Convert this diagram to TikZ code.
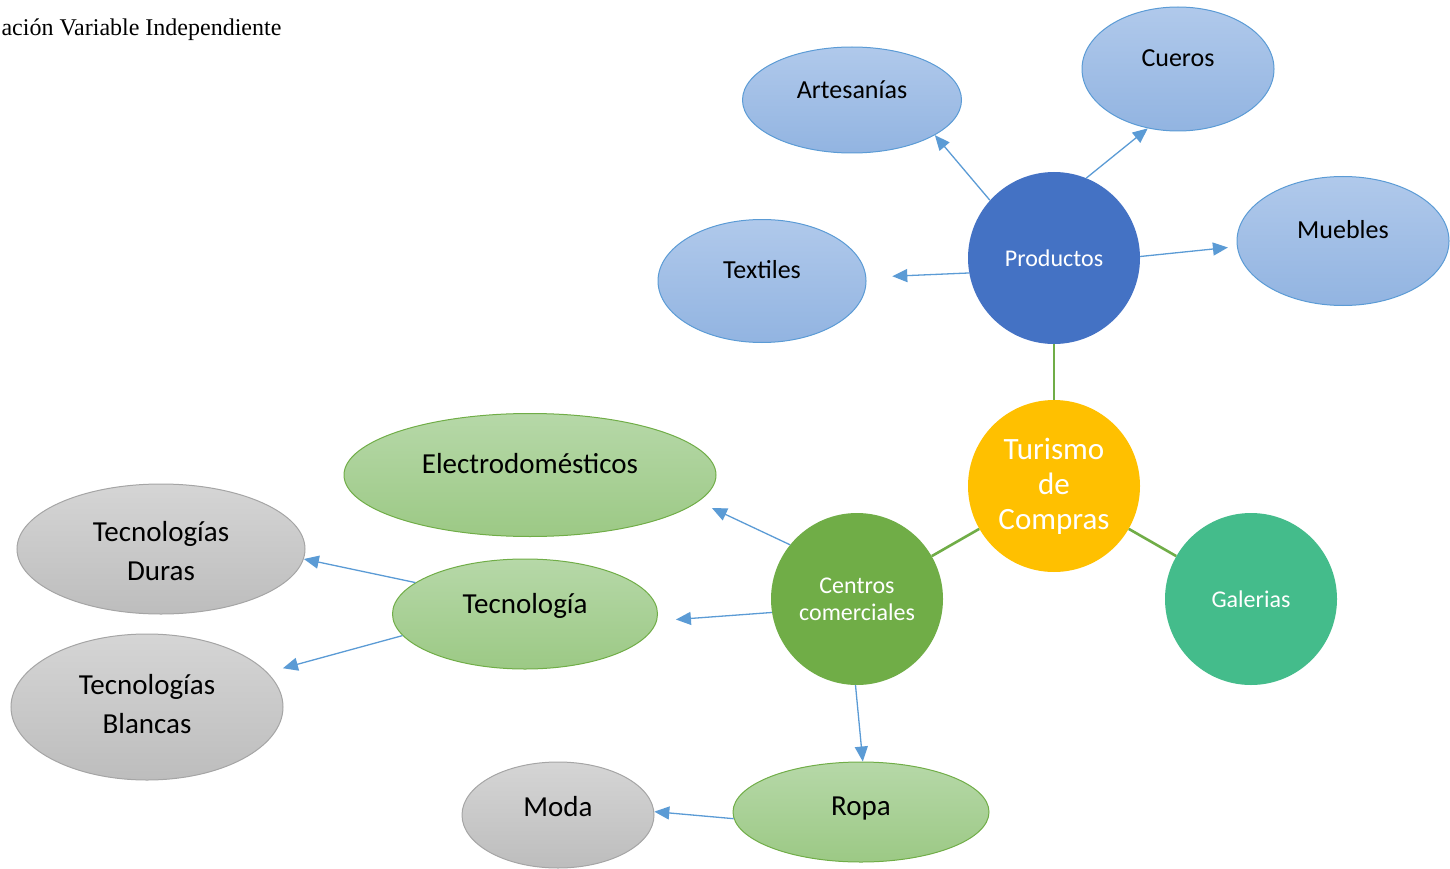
\documentclass[tikz,border=0pt]{standalone}
\usepackage{fontspec}
\setmainfont{Carlito}
\newfontfamily\timesfont{Liberation Serif}
\usetikzlibrary{arrows.meta,shapes.geometric}

\definecolor{turgold}{HTML}{FFC000}
\definecolor{prodblue}{HTML}{4472C4}
\definecolor{cengreen}{HTML}{70AD47}
\definecolor{galteal}{HTML}{44BC8B}
\definecolor{arrblue}{HTML}{5B9BD5}
\definecolor{blueline}{HTML}{5B9BD5}
\definecolor{bluetop}{HTML}{B0C9EB}
\definecolor{bluebot}{HTML}{92B4E1}
\definecolor{greentop}{HTML}{B6D8A8}
\definecolor{greenbot}{HTML}{9CC985}
\definecolor{greytop}{HTML}{D5D5D5}
\definecolor{greybot}{HTML}{BDBDBD}
\definecolor{greyline}{HTML}{A5A5A5}

\begin{document}
\begin{tikzpicture}[x=1pt,y=-1pt,
    hub/.style={circle,minimum size=172pt,inner sep=0pt,text=white,align=center},
    oval/.style={ellipse,inner sep=0pt,line width=1pt},
    blueoval/.style={oval,draw=blueline,top color=bluetop,bottom color=bluebot},
    greenoval/.style={oval,draw=cengreen,top color=greentop,bottom color=greenbot},
    greyoval/.style={oval,draw=greyline,top color=greytop,bottom color=greybot},
    small/.style={font=\fontsize{26}{30}\selectfont},
    big/.style={font=\fontsize{29}{39}\selectfont,align=center},
    link/.style={draw=cengreen,line width=2.6pt},
    arr/.style={draw=arrblue,line width=1.3pt,-{Triangle[length=15pt,width=13pt]}}]
  \useasboundingbox (0,0) rectangle (1450,869);
  \node[anchor=west,font=\timesfont\fontsize{24}{28}\selectfont] (title) at (-2,30) {ación Variable Independiente};
  % the four circles
  \node[hub,fill=turgold,font=\fontsize{31}{35}\selectfont] (tur) at (1054,486) {Turismo\\de\\Compras};
  \node[hub,fill=prodblue,font=\fontsize{24}{28}\selectfont] (prod) at (1054,258) {Productos};
  \node[hub,fill=cengreen,font=\fontsize{24}{27}\selectfont] (cen) at (857,599) {Centros\\comerciales};
  \node[hub,fill=galteal,font=\fontsize{24}{28}\selectfont] (gal) at (1251,599) {Galerias};
  % products
  \node[blueoval,minimum width=219pt,minimum height=106pt,label={[small,yshift=10pt]center:Artesanías}] (art) at (852,100) {};
  \node[blueoval,minimum width=192pt,minimum height=124pt,label={[small,yshift=11pt]center:Cueros}] (cue) at (1178,69) {};
  \node[blueoval,minimum width=212pt,minimum height=129pt,label={[small,yshift=11pt]center:Muebles}] (mue) at (1343,241) {};
  \node[blueoval,minimum width=208pt,minimum height=123pt,label={[small,yshift=11pt]center:Textiles}] (tex) at (762,281) {};
  % centros comerciales
  \node[greenoval,minimum width=372pt,minimum height=123pt,label={[big,yshift=11pt]center:Electrodomésticos}] (ele) at (530,475) {};
  \node[greenoval,minimum width=265pt,minimum height=110pt,label={[big,yshift=8pt]center:Tecnología}] (tec) at (525,614) {};
  \node[greenoval,minimum width=256pt,minimum height=100pt,label={[big,yshift=3pt]center:Ropa}] (rop) at (861,812) {};
  \node[greyoval,minimum width=288pt,minimum height=130pt,label={[big,yshift=-2pt]center:Tecnologías\\Duras}] (dur) at (161,549) {};
  \node[greyoval,minimum width=272pt,minimum height=146pt,label={[big,yshift=3pt]center:Tecnologías\\Blancas}] (bla) at (147,707) {};
  \node[greyoval,minimum width=192pt,minimum height=106pt,label={[big,yshift=8pt]center:Moda}] (mod) at (558,815) {};
  % green links
  \draw[link] (prod) -- (tur);
  \draw[link] (tur) -- (cen);
  \draw[link] (tur) -- (gal);
  % blue arrows
  \draw[arr] (prod.138) -- (art.-23);
  \draw[arr] (prod.68) -- (cue.-117);
  \draw[arr,shorten >=9pt] (prod.1) -- (mue.183);
  \draw[arr,shorten >=26pt] (prod.190) -- (tex.2);
  \draw[arr,shorten >=15pt] (cen.141) -- (ele.-9);
  \draw[arr,shorten >=19pt] (cen.189) -- (tec.-3);
  \draw[arr] (cen.-91) -- (rop.88);
  \draw[arr] (tec.164) -- (dur.-4);
  \draw[arr,shorten >=16pt] (tec.190) -- (bla.16);
  \draw[arr] (rop.183) -- (mod.2);
\end{tikzpicture}
\end{document}
